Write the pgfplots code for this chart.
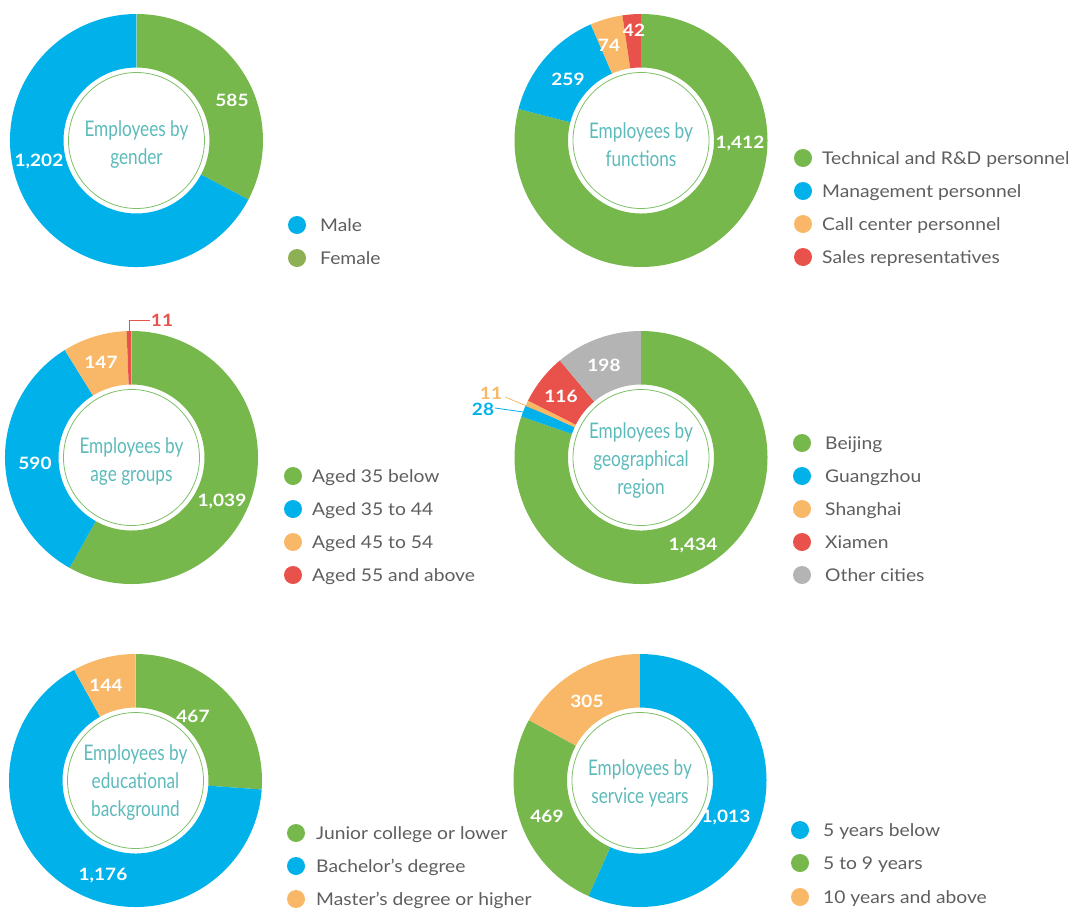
\documentclass[border=0pt]{standalone}
\usepackage{pgfplots}
\pgfplotsset{compat=1.18}
\usepackage{fontspec}
\setmainfont{Lato}
\newfontfamily\titlefont[FakeStretch=0.8]{Lato}
\newfontfamily\legfont[FakeStretch=1.1]{Lato}
\newfontfamily\numfont[FakeStretch=1.12]{Lato}

\definecolor{cgreen}{HTML}{77B84D}
\definecolor{cblue}{HTML}{00B1EA}
\definecolor{corange}{HTML}{F9B868}
\definecolor{cred}{HTML}{E9524A}
\definecolor{cgray}{HTML}{B4B4B4}
\definecolor{colive}{HTML}{8EB055}
\definecolor{cteal}{HTML}{5DBABB}
\definecolor{cring}{HTML}{7DC068}
\definecolor{legtext}{HTML}{5E5E60}

\newcommand\Ro{126.5pt}
\newcommand\Ri{73pt}

% #1 cx, #2 cy (pixel coordinates), #3 list value/colour, drawn clockwise from the top
\newcommand\donut[3]{%
  \gdef\dtot{0}%
  \foreach \val/\col in {#3}{\pgfmathsetmacro\tmp{\dtot+\val}\xdef\dtot{\tmp}}%
  \gdef\curang{90}%
  \foreach \val/\col in {#3}{%
    \pgfmathsetmacro\na{\curang-360*(\val/\dtot)}%
    \fill[\col] ([shift={(\curang:\Ro)}]axis cs:#1,#2) arc[start angle=\curang, end angle=\na, radius=\Ro]
      -- ([shift={(\na:\Ri)}]axis cs:#1,#2) arc[start angle=\na, end angle=\curang, radius=\Ri] -- cycle;
    \xdef\curang{\na}%
  }%
  \draw[cring, line width=0.8pt] (axis cs:#1,#2) circle[radius=68pt];
}
\newcommand\dtitle[3]{\node[align=center, inner sep=0pt, text=cteal, font=\titlefont\fontsize{21.5}{28}\selectfont] at (axis cs:#1,#2) {#3};}
\newcommand\num[4][white]{\node[anchor=base, inner sep=0pt, yshift=-6pt, text=#1, font=\numfont\fontsize{17}{20}\selectfont\bfseries] at (axis cs:#2,#3) {#4};}
\newcommand\leg[5]{%
  \fill[#3] (axis cs:#1,#2) circle[radius=9pt];
  \node[anchor=base west, inner sep=0pt, yshift=-6pt, text=legtext, font=\legfont\fontsize{17.5}{20}\selectfont] at (axis cs:#4,#2) {#5};}

\begin{document}
\begin{tikzpicture}
\useasboundingbox (0,0) rectangle (1068pt,908pt);
\begin{axis}[at={(0,0)}, anchor=south west, scale only axis, width=1068pt, height=908pt,
  xmin=0, xmax=1068, ymin=0, ymax=908, y dir=reverse, hide axis, clip=false]
\pgfplotsextra{%
  % gender
  \donut{136.5}{140.5}{585/cgreen, 1202/cblue}
  \dtitle{136.5}{145}{Employees by\\gender}
  \num{232}{100}{585}
  \num{39}{160}{1,202}
  \leg{297}{225}{cblue}{320}{Male}
  \leg{297}{258}{colive}{320}{Female}
  % functions
  \donut{641}{140.5}{1412/cgreen, 259/cblue, 74/corange, 42/cred}
  \dtitle{641}{145}{Employees by\\functions}
  \num{740}{142}{1,412}
  \num{568}{79}{259}
  \num{609}{45}{74}
  \num{634}{30}{42}
  \leg{803}{158}{cgreen}{822}{Technical and R\&D personnel}
  \leg{803}{191}{cblue}{822}{Management personnel}
  \leg{803}{224}{corange}{822}{Call center personnel}
  \leg{803}{257}{cred}{822}{Sales representatives}
  % age
  \donut{131.5}{457.5}{1039/cgreen, 590/cblue, 147/corange, 11/cred}
  \dtitle{131.5}{462}{Employees by\\age groups}
  \num{101}{362}{147}
  \num{35}{463}{590}
  \num{222}{500}{1,039}
  \draw[cred, line width=1pt] (axis cs:129.5,334) -- (axis cs:129.5,320) -- (axis cs:150,320);
  \num[cred]{162}{320}{11}
  \leg{293}{476}{cgreen}{312}{Aged 35 below}
  \leg{293}{509}{cblue}{312}{Aged 35 to 44}
  \leg{293}{542}{corange}{312}{Aged 45 to 54}
  \leg{293}{575}{cred}{312}{Aged 55 and above}
  % geography
  \donut{641}{457.5}{1434/cgreen, 28/cblue, 11/corange, 116/cred, 198/cgray}
  \dtitle{641}{461}{Employees by\\geographical\\region}
  \num{604}{365}{198}
  \num{561}{396}{116}
  \num{693}{544}{1,434}
  \draw[corange, line width=0.8pt] (axis cs:505,397) -- (axis cs:575,426);
  \draw[cblue, line width=0.8pt] (axis cs:495,408) -- (axis cs:523,412);
  \num[corange]{491}{393}{11}
  \num[cblue]{483}{409}{28}
  \leg{802}{443}{cgreen}{825}{Beijing}
  \leg{802}{476}{cblue}{825}{Guangzhou}
  \leg{802}{509}{corange}{825}{Shanghai}
  \leg{802}{542}{cred}{825}{Xiamen}
  \leg{802}{575}{cgray}{825}{Other cities}
  % education
  \donut{135.5}{780.5}{467/cgreen, 1176/cblue, 144/corange}
  \dtitle{135.5}{783}{Employees by\\educational\\background}
  \num{193}{716}{467}
  \num{106}{685}{144}
  \num{103}{874}{1,176}
  \leg{296}{833}{cgreen}{316}{Junior college or lower}
  \leg{296}{866}{cblue}{316}{Bachelor’s degree}
  \leg{296}{899}{corange}{316}{Master’s degree or higher}
  % service years
  \donut{640}{780.5}{1013/cblue, 469/cgreen, 305/corange}
  \dtitle{640}{783}{Employees by\\service years}
  \num{587}{701}{305}
  \num{547}{816}{469}
  \num{726}{816}{1,013}
  \leg{800}{830}{cblue}{823}{5 years below}
  \leg{800}{863}{cgreen}{823}{5 to 9 years}
  \leg{800}{897}{corange}{823}{10 years and above}
}
\end{axis}
\end{tikzpicture}
\end{document}
